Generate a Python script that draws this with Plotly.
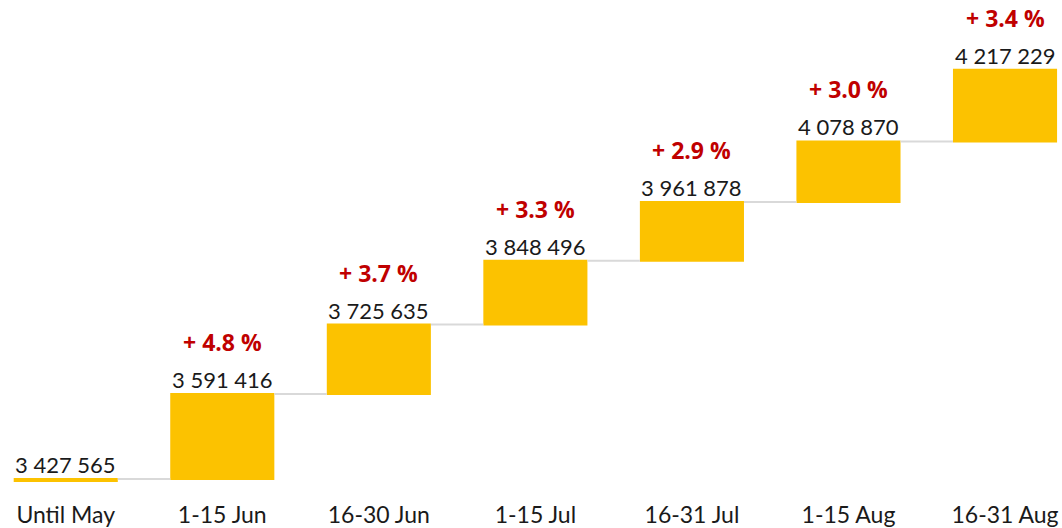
import plotly.graph_objects as go
import numpy as np

# data
periods = ["Until May", "1-15 Jun", "16-30 Jun", "1-15 Jul", "16-31 Jul", "1-15 Aug", "16-31 Aug"]
totals = [3427565, 3591416, 3725635, 3848496, 3961878, 4078870, 4217229]
growth = ["", "+ 4.8 %", "+ 3.7 %", "+ 3.3 %", "+ 2.9 %", "+ 3.0 %", "+ 3.4 %"]

steps = [totals[0]] + list(np.diff(totals))
measures = ["absolute"] + ["relative"] * (len(totals) - 1)

yellow = "#FCC200"
red = "#C00000"

fig = go.Figure()

fig.add_trace(go.Waterfall(
    x=periods,
    y=steps,
    measure=measures,
    increasing=dict(marker=dict(color=yellow)),
    totals=dict(marker=dict(color=yellow)),
    decreasing=dict(marker=dict(color=yellow)),
    connector=dict(line=dict(color="#D9D9D9", width=2)),
    width=0.665,
    hoverinfo="x+y",
))

# value labels above each bar
for p, v in zip(periods, totals):
    fig.add_annotation(x=p, y=v, text=f"{v:,}".replace(",", " "),
                       showarrow=False, yanchor="bottom", yshift=-1,
                       font=dict(family="Lato", size=22, color="#1a1a1a"))

# growth labels
for p, v, g in zip(periods, totals, growth):
    if g:
        fig.add_annotation(x=p, y=v, text=g, showarrow=False,
                           yanchor="bottom", yshift=34,
                           font=dict(family="Open Sans", size=23, color=red, weight="bold"))

fig.update_xaxes(range=[-0.42, 6.364], showgrid=False, showline=False,
                 ticks="", ticklabelstandoff=17,
                 tickfont=dict(family="Lato", size=23, color="#1a1a1a"))
fig.update_yaxes(range=[3421800, 4351700], visible=False, showgrid=False)

fig.update_layout(
    width=1062, height=528,
    margin=dict(l=0, r=0, t=0, b=44),
    plot_bgcolor="white", paper_bgcolor="white",
    showlegend=False,
)

# page body has a default margin; drop it so the figure fills the window
fig.write_html("out.html", config={"displayModeBar": False},
               post_script="document.body.style.margin='0';")
